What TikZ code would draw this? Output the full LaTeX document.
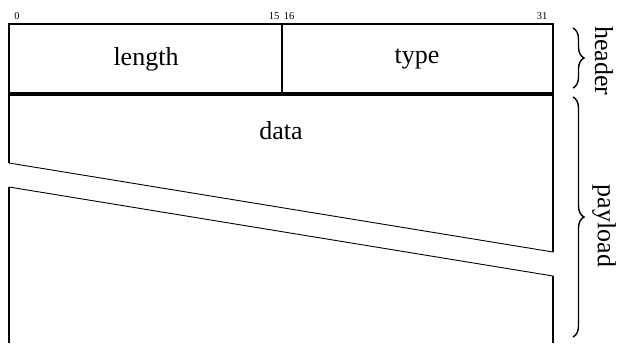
\documentclass[tikz,border=0pt]{standalone}
\usepackage{fontspec}
\setmainfont{Liberation Serif}
\usetikzlibrary{decorations.pathreplacing}

\begin{document}
\begin{tikzpicture}[x=1pt,y=-1pt,
    wall/.style={line width=2.2pt},
    cut/.style={line width=0.9pt},
    bitno/.style={font=\fontsize{10.5}{12}\selectfont},
    field/.style={font=\fontsize{26}{28}\selectfont},
    side/.style={font=\fontsize{26}{28}\selectfont, rotate=-90},
    curly/.style={decorate, decoration={brace, amplitude=11pt}, line width=1.4pt}]
    \useasboundingbox (0,0) rectangle (620,343);

    % Bit numbers
    \node[bitno] (b0)  at (17,16)  {0};
    \node[bitno] (b15) at (274,16) {15};
    \node[bitno] (b16) at (289,16) {16};
    \node[bitno] (b31) at (542,16) {31};

    % Header
    \draw[wall] (9,94) -- (9,24) -- (553,24) -- (553,94);
    \draw[line width=1.8pt] (282,24) -- (282,94);
    \draw[line width=4pt] (9,94) -- (553,94);
    \node[field] (len)  at (146,59) {length};
    \node[field] (type) at (417,59) {type};

    % Payload with cut
    \draw[wall] (9,94) -- (9,163);
    \draw[wall] (553,94) -- (553,252);
    \draw[wall] (9,187) -- (9,343);
    \draw[wall] (553,276) -- (553,343);
    \draw[cut] (9,163) -- (553,252);
    \draw[cut] (9,187) -- (553,276);
    \node[field] (data) at (281,131) {data};

    % Braces
    \draw[curly] (573,28) -- (573,88);
    \draw[curly] (573,97) -- (573,337);
    \node[side] (hdr) at (604,61)  {header};
    \node[side] (pld) at (604,226) {payload};
\end{tikzpicture}
\end{document}
